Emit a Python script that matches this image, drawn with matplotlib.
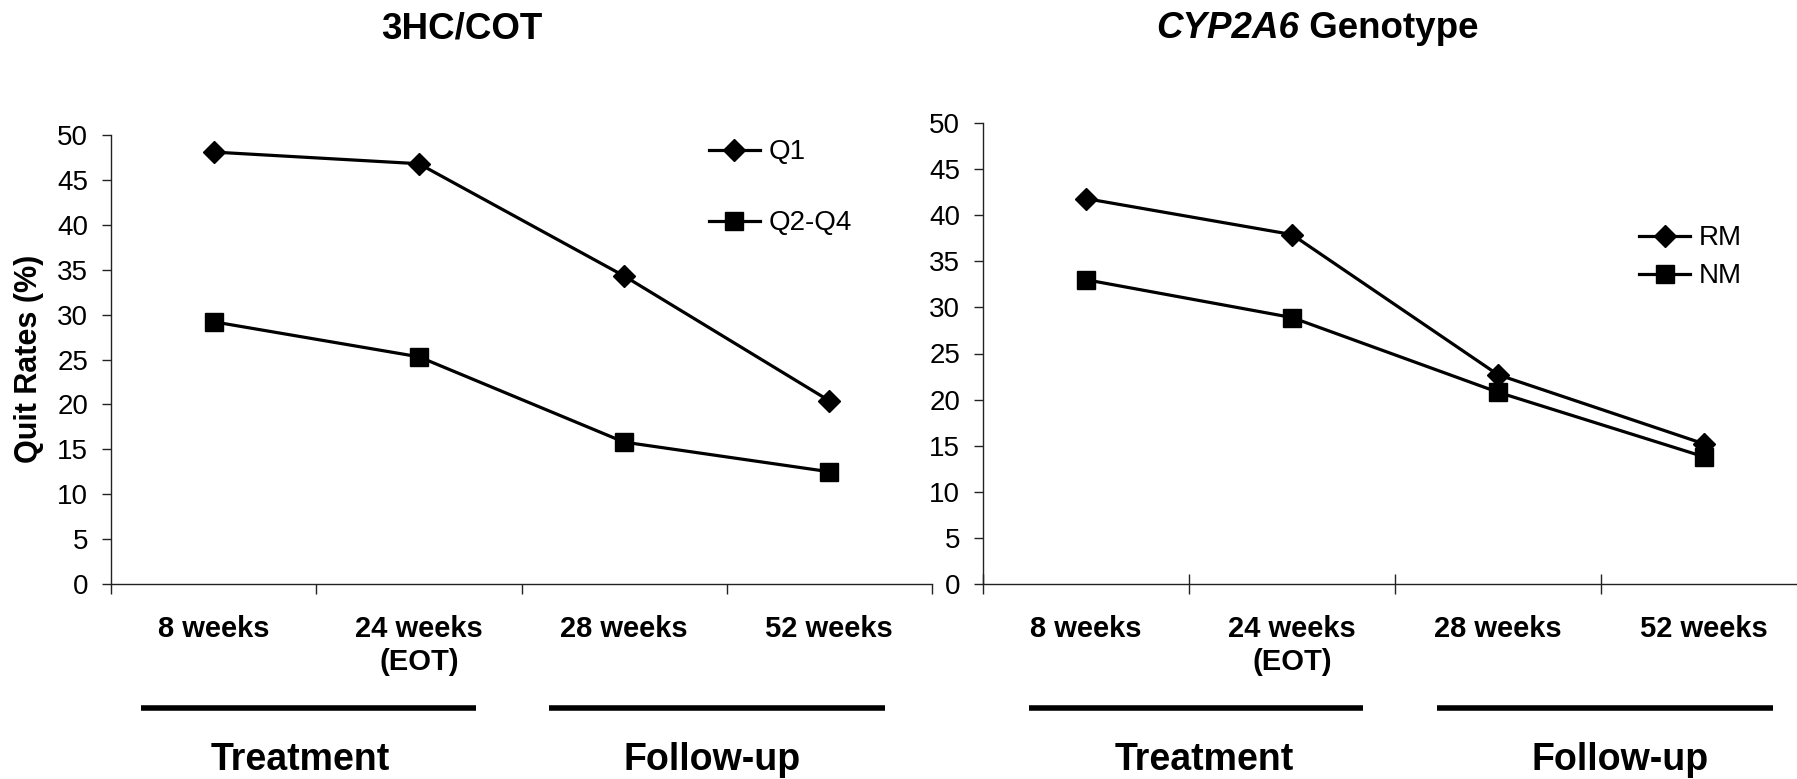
import matplotlib
matplotlib.use("Agg")
import matplotlib.pyplot as plt
import matplotlib.transforms as mtransforms

plt.rcParams["font.family"] = ["Liberation Sans", "DejaVu Sans"]

# DATA
timepoints = ["8 weeks", "24 weeks\n(EOT)", "28 weeks", "52 weeks"]
phases = ["Treatment", "Follow-up"]

q1 = [48.1, 46.8, 34.3, 20.4]
q2_q4 = [29.2, 25.3, 15.8, 12.5]

rm = [41.8, 37.9, 22.7, 15.2]
nm = [33.0, 28.9, 20.8, 13.8]

yticks = list(range(0, 55, 5))

# FIGURE
W, H = 1797, 779
fig = plt.figure(figsize=(W / 100, H / 100), dpi=100)

ax1 = fig.add_axes([111 / W, 1 - 584 / H, 821 / W, 449 / H])
ax2 = fig.add_axes([983 / W, 1 - 584 / H, 824 / W, 461 / H])

x = list(range(len(timepoints)))


def style_axes(ax, xtick_dir):
    ax.set_xlim(-0.5, 3.5)
    ax.set_ylim(0, 50)
    for side in ("top", "right"):
        ax.spines[side].set_visible(False)
    for side in ("left", "bottom"):
        ax.spines[side].set_linewidth(1.0)
        ax.spines[side].set_color("#222222")
    ax.set_yticks(yticks)
    ax.tick_params(axis="y", direction="out", length=6.5, width=1,
                   labelsize=20, pad=10, colors="#222222", labelcolor="black")
    ax.set_xticks([-0.5, 0.5, 1.5, 2.5, 3.5])
    ax.set_xticklabels([])
    ax.tick_params(axis="x", which="major", direction=xtick_dir,
                   length=7 if xtick_dir == "out" else 14, width=1,
                   colors="#222222")
    ax.set_xticks(x, minor=True)
    ax.set_xticklabels(timepoints, minor=True, fontsize=21, fontweight="bold",
                       linespacing=1.25)
    ax.tick_params(axis="x", which="minor", length=0, pad=22)


style_axes(ax1, "out")
style_axes(ax2, "inout")

line_kw = dict(color="black", linewidth=2.3, clip_on=False)
ax1.plot(x, q1, marker="D", markersize=11, label="Q1", **line_kw)
ax1.plot(x, q2_q4, marker="s", markersize=13, label="Q2-Q4", **line_kw)
ax2.plot(x, rm, marker="D", markersize=11, label="RM", **line_kw)
ax2.plot(x, nm, marker="s", markersize=13, label="NM", **line_kw)

legend_kw = dict(loc="upper left", frameon=False, fontsize=20,
                 handlelength=1.85, handletextpad=0.3, borderpad=0,
                 borderaxespad=0)
ax1.legend(bbox_to_anchor=(0.728, 0.99), labelspacing=1.62, **legend_kw)
ax2.legend(bbox_to_anchor=(0.796, 0.778), labelspacing=0.43, **legend_kw)

# phase bars and labels under the category labels
bar_y = 1 - 708 / H
text_y = 1 - 760 / H
panels = [
    (ax1, [(-0.355, 1.276), (1.634, 3.27)], [0.42, 2.43]),
    (ax2, [(-0.277, 1.347), (1.703, 3.333)], [0.574, 2.593]),
]
for ax, spans, centers in panels:
    trans = mtransforms.blended_transform_factory(ax.transData, fig.transFigure)
    for (x0, x1), cx, name in zip(spans, centers, phases):
        ax.plot([x0, x1], [bar_y, bar_y], transform=trans, color="black",
                linewidth=4, solid_capstyle="butt", clip_on=False)
        ax.text(cx, text_y, name, transform=trans, ha="center", va="center",
                fontsize=27, fontweight="bold")

# titles
fig.text(462 / W, 1 - 29 / H, "3HC/COT", ha="center", va="center",
         fontsize=26.5, fontweight="bold")
t = fig.text(1156 / W, 1 - 29 / H, "CYP2A6", ha="left", va="center",
             fontsize=26.5, fontweight="bold", fontstyle="italic")
ax2.annotate(" Genotype", xy=(1, 0.5), xycoords=t, ha="left", va="center",
             fontsize=26.5, fontweight="bold", annotation_clip=False)

fig.text(29 / W, 1 - 359 / H, "Quit Rates (%)", rotation=90, ha="center",
         va="center", fontsize=22, fontweight="bold")

fig.savefig("out.png", dpi=100)
